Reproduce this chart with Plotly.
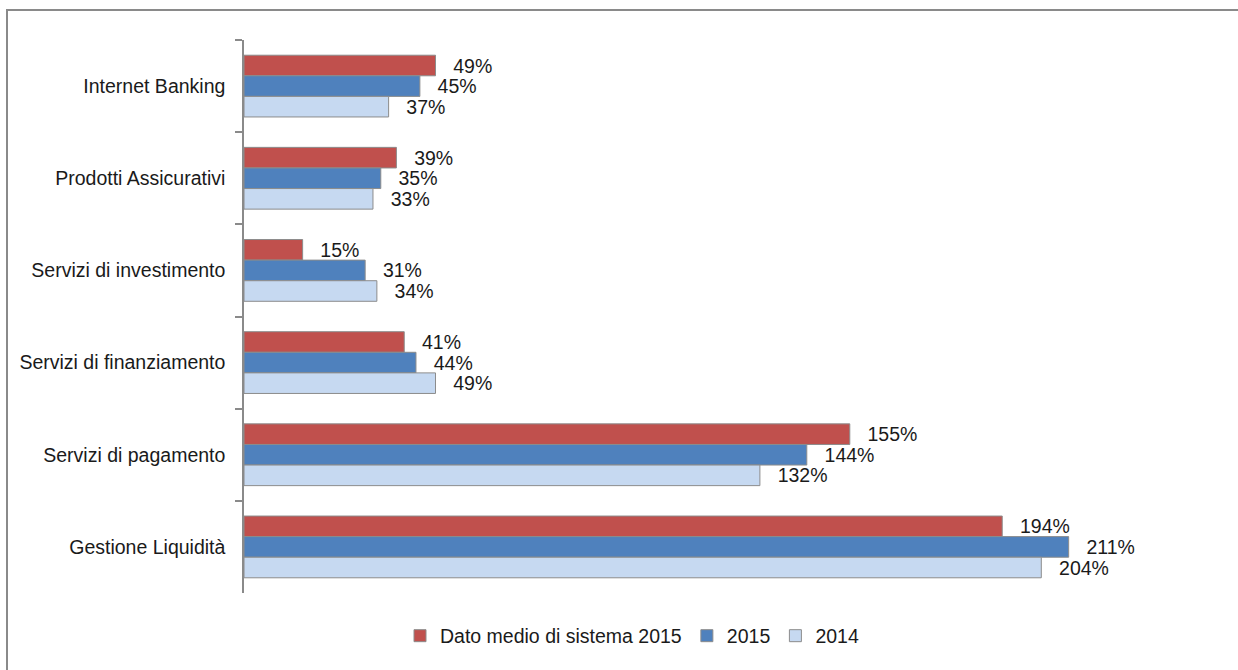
import plotly.graph_objects as go

# Categories (top to bottom) and series values in percent
categories = [
    "Internet Banking",
    "Prodotti Assicurativi",
    "Servizi di investimento",
    "Servizi di finanziamento",
    "Servizi di pagamento",
    "Gestione Liquidità",
]
series_names = ["Dato medio di sistema 2015", "2015", "2014"]
dato_medio_2015 = [49, 39, 15, 41, 155, 194]
valori_2015 = [45, 35, 31, 44, 144, 211]
valori_2014 = [37, 33, 34, 49, 132, 204]

colors = ["#C0504D", "#4F81BD", "#C6D9F1"]
FONT = "Liberation Sans, Arial, sans-serif"
FSIZE = 19.5

W, H = 1238, 670
ML, MR, MT, MB = 244, 56, 40, 77
PW, PH = W - ML - MR, H - MT - MB


def px_x(p):
    return (p - ML) / PW


def px_y(p):
    return (H - MB - p) / PH


fig = go.Figure()
for name, vals, col in zip(series_names, [dato_medio_2015, valori_2015, valori_2014], colors):
    fig.add_trace(go.Bar(
        name=name,
        y=categories,
        x=vals,
        orientation="h",
        marker=dict(color=col, line=dict(color="#8C8C8C", width=1)),
        texttemplate="\u00a0\u00a0\u2009%{x}%",
        textposition="outside",
        constraintext="none",
        cliponaxis=False,
        textfont=dict(family=FONT, size=FSIZE, color="#1A1A1A"),
    ))

fig.update_layout(
    width=W, height=H,
    margin=dict(l=ML, r=MR, t=MT, b=MB, autoexpand=False),
    barmode="group",
    bargap=0.33,
    bargroupgap=0,
    plot_bgcolor="white",
    paper_bgcolor="white",
    font=dict(family=FONT, size=FSIZE, color="#1A1A1A"),
    showlegend=True,
    legend=dict(
        orientation="h",
        x=px_x(632), xanchor="center",
        y=px_y(636), yanchor="middle",
        font=dict(family=FONT, size=FSIZE, color="#1A1A1A"),
        itemwidth=30,
        traceorder="normal",
    ),
    xaxis=dict(range=[0, 240], visible=False, showgrid=False, zeroline=False,
               automargin=False),
    yaxis=dict(
        autorange="reversed",
        automargin=False,
        showline=True, linecolor="#8A8A8A", linewidth=1.5,
        ticks="outside", ticklen=7, tickcolor="#8A8A8A", tickwidth=1.5,
        tickson="boundaries",
        ticklabelstandoff=13,
        showgrid=False, zeroline=False,
        tickfont=dict(family=FONT, size=FSIZE, color="#1A1A1A"),
    ),
    shapes=[dict(
        type="rect", xref="paper", yref="paper",
        x0=px_x(7), x1=px_x(1250), y0=px_y(10), y1=px_y(690),
        line=dict(color="#8A8A8A", width=2), fillcolor="rgba(0,0,0,0)",
        layer="above",
    )],
)

fig.write_html("out.html")
